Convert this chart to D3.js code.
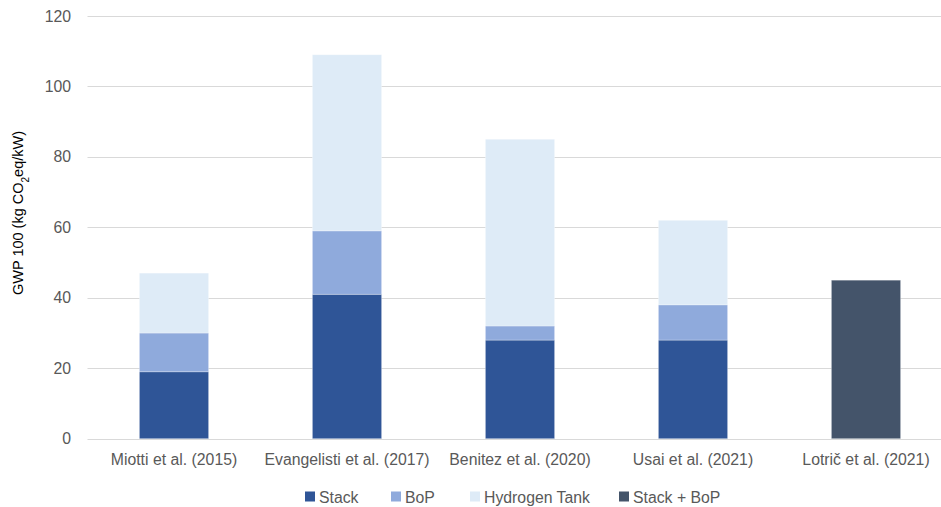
<!DOCTYPE html>
<html>
<head>
<meta charset="utf-8">
<script src="https://cdn.jsdelivr.net/npm/d3@7"></script>
<style>
  html, body { margin: 0; padding: 0; background: #fff; }
  svg { display: block; font-family: "Liberation Sans", Arial, sans-serif; }
</style>
</head>
<body>
<svg id="chart" width="941" height="507"></svg>
<script>
// Studies compared
const categories = ["Miotti et al. (2015)", "Evangelisti et al. (2017)", "Benitez et al. (2020)", "Usai et al. (2021)", "Lotrič et al. (2021)"];

// GWP 100 contributions (kg CO2eq/kW) per component
const stack     = [19, 41, 28, 28, 0];
const bop       = [11, 18, 4, 10, 0];
const tank      = [17, 50, 53, 24, 0];
const stackBop  = [0, 0, 0, 0, 45];

const seriesNames = ["Stack", "BoP", "Hydrogen Tank", "Stack + BoP"];
const seriesColors = ["#2F5597", "#8FAADC", "#DEEBF7", "#44546A"];
const yTicks = [0, 20, 40, 60, 80, 100, 120];

const rows = categories.map((c, i) => ({
  category: c,
  "Stack": stack[i],
  "BoP": bop[i],
  "Hydrogen Tank": tank[i],
  "Stack + BoP": stackBop[i]
}));

const svg = d3.select("#chart");
const W = 941, H = 507;
const plot = { left: 87.5, right: 952.5, top: 16, bottom: 438.7 };

const x = d3.scaleBand().domain(categories).range([plot.left, plot.right]).padding(0);
const y = d3.scaleLinear().domain([0, 120]).range([plot.bottom, plot.top]);
const color = d3.scaleOrdinal().domain(seriesNames).range(seriesColors);

const textColor = "#595959";
const labelSize = "15.8px";

// Horizontal gridlines
svg.append("g")
  .selectAll("line")
  .data(yTicks)
  .join("line")
  .attr("x1", plot.left)
  .attr("x2", W)
  .attr("y1", d => Math.round(y(d)) + 0.5)
  .attr("y2", d => Math.round(y(d)) + 0.5)
  .attr("stroke", "#D9D9D9")
  .attr("stroke-width", 1.2);

// Y axis labels
const yAxis = d3.axisLeft(y).tickValues(yTicks).tickSize(0).tickPadding(0);
const yg = svg.append("g").attr("transform", `translate(71,0)`).call(yAxis);
yg.select(".domain").remove();
yg.selectAll("text")
  .attr("fill", textColor)
  .style("font-size", labelSize);

// Stacked bars
const stacked = d3.stack().keys(seriesNames)(rows);
const barW = x.bandwidth() * 0.4;

svg.append("g")
  .selectAll("g")
  .data(stacked)
  .join("g")
  .attr("fill", d => color(d.key))
  .selectAll("rect")
  .data(d => d.filter(s => s[1] - s[0] > 0))
  .join("rect")
  .attr("x", d => x(d.data.category) + (x.bandwidth() - barW) / 2)
  .attr("width", barW)
  .attr("y", d => y(d[1]))
  .attr("height", d => y(d[0]) - y(d[1]))
  .attr("stroke", "#ffffff")
  .attr("stroke-opacity", 0.35)
  .attr("stroke-width", 0.8);

// X axis labels
const xAxis = d3.axisBottom(x).tickSize(0).tickPadding(0);
const xg = svg.append("g").attr("transform", `translate(0,${plot.bottom + 15})`).call(xAxis);
xg.select(".domain").remove();
xg.selectAll("text")
  .attr("fill", textColor)
  .style("font-size", labelSize);

// Y axis title
const title = svg.append("text")
  .attr("transform", `translate(23,213) rotate(-90)`)
  .attr("text-anchor", "middle")
  .attr("fill", "#000")
  .style("font-size", "14.5px");
title.append("tspan").text("GWP 100 (kg CO");
title.append("tspan").text("2").attr("baseline-shift", "sub").style("font-size", "10px");
title.append("tspan").text("eq/kW)");

// Legend
const legendItems = [
  { name: "Stack", x: 305 },
  { name: "BoP", x: 391 },
  { name: "Hydrogen Tank", x: 470 },
  { name: "Stack + BoP", x: 619 }
];
const lg = svg.append("g");
const li = lg.selectAll("g").data(legendItems).join("g")
  .attr("transform", d => `translate(${d.x},497)`);
li.append("rect")
  .attr("x", 0).attr("y", -5.5)
  .attr("width", 10).attr("height", 10)
  .attr("fill", d => color(d.name));
li.append("text")
  .attr("x", 14).attr("y", 0)
  .attr("dy", "0.35em")
  .attr("fill", textColor)
  .style("font-size", labelSize)
  .text(d => d.name);
</script>
</body>
</html>
